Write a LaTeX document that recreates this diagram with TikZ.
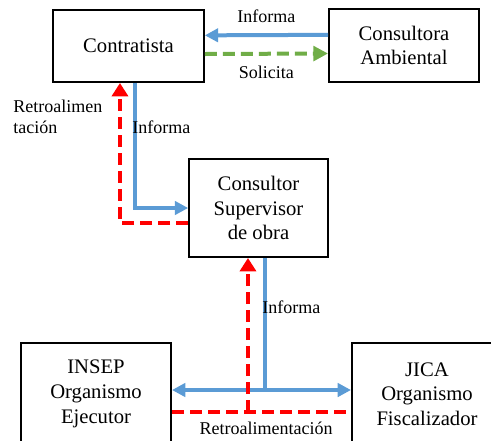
\documentclass[tikz,border=0pt]{standalone}
\usepackage{fontspec}
\setmainfont{Liberation Serif}
\usetikzlibrary{arrows.meta}

\definecolor{azul}{RGB}{91,155,213}
\definecolor{verde}{RGB}{112,173,71}
\definecolor{rojo}{RGB}{255,0,0}

\tikzset{
    caja/.style={draw, line width=1.5pt, align=center, inner sep=2pt,
        font=\rmfamily\fontsize{15.5}{18.5}\selectfont},
    informa/.style={azul, line width=3pt, -{Triangle[length=10pt,width=10pt]}},
    retro/.style={rojo, line width=3pt, dash pattern=on 9pt off 4.5pt, -{Triangle[length=10pt,width=12pt]}},
    solicita/.style={verde, line width=3pt, dash pattern=on 9pt off 4.5pt, -{Triangle[length=11pt,width=11pt]}},
    etiqueta/.style={inner sep=0pt, text=black, font=\rmfamily\fontsize{13.5}{15.5}\selectfont}
}

\begin{document}
\begin{tikzpicture}[x=0.75pt, y=-0.75pt]
            \clip (0,0) rectangle (491,440);

            % Top row
            \node[caja, minimum width=113pt, minimum height=54pt] (contratista) at (128.5,46) {Contratista};
            \node[caja, minimum width=112.5pt, minimum height=55pt] (consultora) at (404,45.5) {Consultora\\Ambiental};
            \draw[informa] ([yshift=8pt]consultora.west) -- ([yshift=8pt]contratista.east) node[etiqueta, midway, above=8pt] (inf1) {Informa};
            \draw[solicita] ([yshift=-6pt]contratista.east) -- ([yshift=-6pt]consultora.west) node[etiqueta, midway, below=8pt] (sol) {Solicita};

            % Middle node
            \node[caja, minimum width=104pt, minimum height=73.5pt] (supervisor) at (258.5,208) {Consultor\\Supervisor\\de obra};
            \draw[informa] ([xshift=4.9pt]contratista.south) |- (supervisor.west);
            \draw[retro] ([yshift=-11pt]supervisor.west) -| ([xshift=-6.4pt]contratista.south);
            \node[etiqueta, anchor=west] (inf2) at (132,127) {Informa};
            \node[etiqueta, anchor=west, align=left] (retro1) at (13,117) {Retroalimen\\tación};

            % Bottom row
            \node[caja, minimum width=112.5pt, minimum height=77pt] (insep) at (96,394) {INSEP\\Organismo\\Ejecutor};
            \node[caja, minimum width=112.5pt, minimum height=77pt] (jica) at (427,394) {JICA\\Organismo\\Fiscalizador};
            \coordinate (cruce) at ([xshift=4.9pt]supervisor.south |- 0,390);
            \draw[azul, line width=3pt] ([xshift=4.9pt]supervisor.south) -- (cruce);
            \draw[informa, {Triangle[length=10pt,width=10pt]}-{Triangle[length=10pt,width=10pt]}] (insep.east |- cruce) -- (jica.west |- cruce);
            \node[etiqueta, anchor=west] (inf3) at (262,307) {Informa};

            \coordinate (base) at ([xshift=-7.9pt]supervisor.south |- 0,412);
            \draw[retro, -] (insep.east |- base) -- (jica.west |- base);
            \draw[retro] (base) -- ([xshift=-7.9pt]supervisor.south);
            \node[etiqueta] (retro2) at (266,428) {Retroalimentación};
        \end{tikzpicture}
\end{document}
